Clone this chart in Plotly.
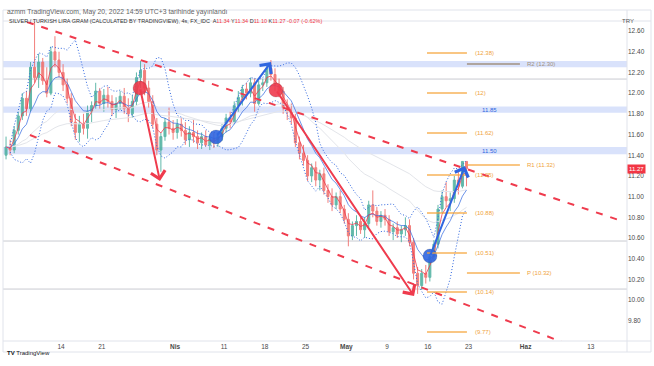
import numpy as np
import pandas as pd
import plotly.graph_objects as go

# ---------------- data ----------------
trading_days = pd.bdate_range("2022-03-03", "2022-05-20")   # one entry per trading day, two 12h bars each

opens = [11.40, 11.48, 11.45, 11.64, 11.78, 11.95, 11.85, 12.25, 12.15, 12.30,
         12.12, 12.00, 12.40, 12.32, 12.20, 12.08, 11.95, 11.72, 11.62, 11.70,
         11.66, 11.82, 11.88, 12.02, 11.90, 11.98, 11.92, 11.84, 11.90, 11.97,
         11.85, 11.80, 11.92, 12.15, 12.22, 12.05, 11.92, 11.70, 11.45, 11.58,
         11.72, 11.66, 11.62, 11.70, 11.64, 11.55, 11.62, 11.58, 11.52, 11.58,
         11.50, 11.56, 11.52, 11.58, 11.66, 11.76, 11.72, 11.88, 11.96, 12.04,
         12.00, 12.10, 11.90, 12.08, 12.10, 12.24, 12.18, 12.08, 12.02, 11.86,
         11.82, 11.76, 11.52, 11.42, 11.35, 11.20, 11.28, 11.16, 11.22, 11.06,
         11.00, 10.92, 11.00, 10.88, 10.78, 10.62, 10.72, 10.76, 10.68, 10.74,
         10.92, 10.86, 10.76, 10.82, 10.78, 10.66, 10.70, 10.64, 10.68, 10.72,
         10.56, 10.26, 10.14, 10.26, 10.22, 10.42, 10.54, 10.88, 11.00, 10.96,
         10.98, 11.16, 11.10, 11.34]
highs = [11.58, 11.55, 11.68, 11.82, 12.00, 12.02, 12.30, 12.69, 12.38, 12.34,
         12.25, 12.45, 12.55, 12.40, 12.28, 12.14, 12.00, 11.80, 11.78, 11.80,
         11.88, 11.92, 12.10, 12.05, 12.04, 12.06, 11.98, 11.96, 12.02, 12.05,
         11.95, 11.98, 12.20, 12.31, 12.28, 12.12, 11.98, 11.76, 11.62, 11.76,
         11.86, 11.74, 11.75, 11.76, 11.72, 11.68, 11.74, 11.64, 11.62, 11.64,
         11.60, 11.62, 11.62, 11.70, 11.80, 11.82, 11.92, 12.02, 12.08, 12.10,
         12.15, 12.14, 12.12, 12.14, 12.28, 12.32, 12.24, 12.14, 12.06, 11.94,
         11.90, 11.80, 11.58, 11.50, 11.40, 11.32, 11.34, 11.26, 11.28, 11.12,
         11.08, 11.04, 11.06, 10.92, 10.84, 10.76, 10.82, 10.80, 10.80, 10.96,
         11.06, 10.90, 10.86, 10.88, 10.82, 10.74, 10.76, 10.72, 10.80, 10.78,
         10.60, 10.32, 10.30, 10.34, 10.46, 10.58, 10.92, 11.06, 11.14, 11.04,
         11.20, 11.26, 11.34, 11.34]
lows = [11.36, 11.40, 11.42, 11.60, 11.74, 11.78, 11.82, 12.10, 12.05, 12.08,
        11.96, 11.98, 12.25, 12.15, 12.02, 11.90, 11.68, 11.55, 11.53, 11.60,
        11.56, 11.72, 11.85, 11.85, 11.82, 11.86, 11.78, 11.76, 11.84, 11.80,
        11.72, 11.76, 11.88, 12.05, 11.98, 11.86, 11.66, 11.40, 11.24, 11.54,
        11.60, 11.55, 11.56, 11.58, 11.50, 11.48, 11.52, 11.46, 11.46, 11.48,
        11.45, 11.47, 11.48, 11.54, 11.62, 11.66, 11.70, 11.82, 11.88, 11.94,
        11.96, 11.82, 11.88, 12.02, 12.06, 12.12, 12.02, 11.96, 11.80, 11.74,
        11.70, 11.48, 11.36, 11.30, 11.15, 11.14, 11.10, 11.06, 11.02, 10.94,
        10.86, 10.88, 10.84, 10.74, 10.52, 10.58, 10.62, 10.64, 10.60, 10.70,
        10.80, 10.72, 10.70, 10.72, 10.62, 10.58, 10.60, 10.56, 10.62, 10.52,
        10.20, 10.06, 10.10, 10.16, 10.18, 10.38, 10.50, 10.84, 10.90, 10.86,
        10.94, 11.02, 11.08, 11.10]
closes = [11.48, 11.45, 11.64, 11.78, 11.95, 11.85, 12.25, 12.15, 12.30, 12.12,
          12.00, 12.40, 12.32, 12.20, 12.08, 11.95, 11.72, 11.62, 11.70, 11.66,
          11.82, 11.88, 12.02, 11.90, 11.98, 11.92, 11.84, 11.90, 11.97, 11.85,
          11.80, 11.92, 12.15, 12.22, 12.05, 11.92, 11.70, 11.45, 11.58, 11.72,
          11.66, 11.62, 11.70, 11.64, 11.55, 11.62, 11.58, 11.52, 11.58, 11.50,
          11.56, 11.52, 11.58, 11.66, 11.76, 11.72, 11.88, 11.96, 12.04, 12.00,
          12.10, 11.90, 12.08, 12.10, 12.24, 12.18, 12.08, 12.02, 11.86, 11.82,
          11.76, 11.52, 11.42, 11.35, 11.20, 11.28, 11.16, 11.22, 11.06, 11.00,
          10.92, 11.00, 10.88, 10.78, 10.62, 10.72, 10.76, 10.68, 10.74, 10.92,
          10.86, 10.76, 10.82, 10.78, 10.66, 10.70, 10.64, 10.68, 10.72, 10.56,
          10.26, 10.14, 10.26, 10.22, 10.42, 10.54, 10.88, 11.00, 10.96, 10.98,
          11.16, 11.10, 11.34, 11.27]

tick_dates = ["2022-03-14", "2022-03-21", "2022-04-01", "2022-04-11", "2022-04-18", "2022-04-25",
              "2022-05-02", "2022-05-09", "2022-05-16", "2022-05-23", "2022-06-01", "2022-06-13"]
tick_labels = ["14", "21", "<b>Nis</b>", "11", "18", "25", "<b>May</b>", "9", "16", "23", "<b>Haz</b>", "13"]
price_ticks = [12.60, 12.40, 12.20, 12.00, 11.80, 11.60, 11.40, 11.20, 11.00, 10.80, 10.60, 10.40, 10.20, 10.00, 9.80]

zone_bottoms = [12.25, 11.81, 11.41]
zone_tops = [12.31, 11.87, 11.48]
zone_labels = ["", "11.85", "11.50"]
gray_levels = [12.136, 10.571, 10.107]

fib_levels = [12.387, 12.001, 11.614, 11.209, 10.842, 10.455, 10.078, 9.692]
fib_labels = ["(12.38)", "(12)", "(11.62)", "(11.25)", "(10.88)", "(10.51)", "(10.14)", "(9.77)"]
pivot_levels = [12.281, 11.305, 10.262]
pivot_labels = ["R2 (12.30)", "R1 (11.32)", "P (10.32)"]

# drawings: (trading-day position, price)
channel_start_x = [2.82, 3.19]
channel_start_y = [12.687, 11.595]
channel_end_x = [75.83, 68.47]
channel_end_y = [10.764, 9.595]

arrow_tail_x = [16.69, 33.37, 26.01, 52.27]
arrow_tail_y = [12.049, 12.030, 11.576, 10.426]
arrow_tip_x = [19.14, 50.31, 32.76, 56.56]
arrow_tip_y = [11.151, 10.040, 12.300, 11.296]
arrow_kind = ["down", "down", "up", "up"]

last_price = 11.27

# ---------------- styling constants ----------------
RED = "#ef3b4d"
BLUE = "#2f66e0"
ORANGE = "rgba(245,166,60,0.85)"
ORANGE_TXT = "#f0a33c"
FONT = "Liberation Sans"
W, H = 654, 366
ML, MR, MT, MB = 3, 27, 21, 25
PW, PH = W - ML - MR, H - MT - MB


def paper_x(px):
    return (px - ML) / PW


def paper_y(py):
    return (H - MB - py) / PH


# ---------------- positions via trading-day scale ----------------
base = np.datetime64("2022-03-03")
day_pos = np.busday_count(base, trading_days.values.astype("datetime64[D]"))
bar_x = np.repeat(day_pos, 2) + np.tile([0.25, 0.75], len(day_pos))
tick_pos = np.busday_count(base, np.array(tick_dates, dtype="datetime64[D]"))

c = pd.Series(closes)
ema_fast = c.ewm(span=3, adjust=False).mean()
ema_mid = c.ewm(span=8, adjust=False).mean()
bb_mid = c.rolling(7, min_periods=2).mean()
bb_std = c.rolling(7, min_periods=2).std()
bb_up = bb_mid + 1.6 * bb_std
bb_lo = bb_mid - 1.6 * bb_std
ma_long1 = c.ewm(span=30, adjust=False).mean()
ma_long2 = c.ewm(span=60, adjust=False).mean()

fig = go.Figure()

for ml in (ma_long1, ma_long2):
    fig.add_trace(go.Scatter(x=bar_x, y=ml, mode="lines", line=dict(color="#e3e5ea", width=1),
                             hoverinfo="skip", showlegend=False))

fig.add_trace(go.Candlestick(
    x=bar_x, open=opens, high=highs, low=lows, close=closes,
    increasing=dict(line=dict(color="#47ad9c", width=1), fillcolor="#47ad9c"),
    decreasing=dict(line=dict(color="#f06a66", width=1), fillcolor="#f06a66"),
    whiskerwidth=0, opacity=0.85, hoverinfo="skip", showlegend=False))

for band in (bb_up, bb_lo):
    fig.add_trace(go.Scatter(x=bar_x, y=band, mode="lines", line=dict(color=BLUE, width=1, dash="1px,2px"),
                             hoverinfo="skip", showlegend=False))
fig.add_trace(go.Scatter(x=bar_x, y=ema_mid, mode="lines", line=dict(color="rgba(47,102,224,0.7)", width=1),
                         hoverinfo="skip", showlegend=False))
fig.add_trace(go.Scatter(x=bar_x, y=ema_fast, mode="lines", line=dict(color="rgba(239,59,77,0.8)", width=1),
                         hoverinfo="skip", showlegend=False))

shapes = []
for lo_, hi_ in zip(zone_bottoms, zone_tops):
    shapes.append(dict(type="rect", xref="paper", yref="y", x0=0, x1=1, y0=lo_, y1=hi_,
                       fillcolor="rgba(120,150,240,0.28)", line=dict(width=0), layer="below"))
for g in gray_levels:
    shapes.append(dict(type="line", xref="paper", yref="y", x0=0, x1=1, y0=g, y1=g,
                       line=dict(color="#c9cbd1", width=1), layer="below"))
for x0, y0, x1, y1 in zip(channel_start_x, channel_start_y, channel_end_x, channel_end_y):
    shapes.append(dict(type="line", xref="x", yref="y", x0=x0, y0=y0, x1=x1, y1=y1,
                       line=dict(color=RED, width=2, dash="7px,8px")))
for lv in fib_levels:
    shapes.append(dict(type="line", xref="x", yref="y", x0=51.9, x1=56.8, y0=lv, y1=lv,
                       line=dict(color=ORANGE, width=1.5)))
for lv, lab in zip(pivot_levels, pivot_labels):
    col = "#a09080" if lab.startswith("R2") else ORANGE
    shapes.append(dict(type="line", xref="x", yref="y", x0=56.8, x1=63.3, y0=lv, y1=lv,
                       line=dict(color=col, width=1.5)))
frame_col = "#e0e3eb"
for y in (10, 21, H - MB, 352):
    shapes.append(dict(type="line", xref="paper", yref="paper", x0=paper_x(3), x1=paper_x(651),
                       y0=paper_y(y), y1=paper_y(y), line=dict(color=frame_col, width=1)))
for x in (3, 627, 651):
    shapes.append(dict(type="line", xref="paper", yref="paper", x0=paper_x(x), x1=paper_x(x),
                       y0=paper_y(10), y1=paper_y(352), line=dict(color=frame_col, width=1)))

annotations = []
for tx, ty, hx, hy, k in zip(arrow_tail_x, arrow_tail_y, arrow_tip_x, arrow_tip_y, arrow_kind):
    col = RED if k == "down" else BLUE
    annotations.append(dict(x=hx, y=hy, ax=tx, ay=ty, xref="x", yref="y", axref="x", ayref="y",
                            text="", showarrow=True, arrowhead=4, arrowsize=1.4, arrowwidth=2,
                            arrowcolor=col, standoff=0, startstandoff=0))
for lv, lab in zip(fib_levels, fib_labels):
    annotations.append(dict(x=57.6, y=lv, xref="x", yref="y", text=lab, showarrow=False, xanchor="left",
                            font=dict(size=6, color=ORANGE_TXT, family=FONT)))
for lv, lab in zip(pivot_levels, pivot_labels):
    col = "#a09080" if lab.startswith("R2") else ORANGE_TXT
    annotations.append(dict(x=63.9, y=lv, xref="x", yref="y", text=lab, showarrow=False, xanchor="left",
                            font=dict(size=6, color=col, family=FONT)))
for lo_, hi_, lab in zip(zone_bottoms, zone_tops, zone_labels):
    if lab:
        annotations.append(dict(x=59.6, y=(lo_ + hi_) / 2, xref="x", yref="y", text=lab, showarrow=False,
                                font=dict(size=6, color="#2f66e0", family=FONT)))
annotations.append(dict(x=1.0, y=last_price, xref="paper", yref="y", xanchor="left", text=f"{last_price:.2f}",
                        showarrow=False, bgcolor="#f23645", borderpad=1,
                        font=dict(size=6, color="white", family=FONT)))
annotations.append(dict(x=paper_x(5), y=paper_y(6), xref="paper", yref="paper", xanchor="left",
                        text="azmm TradingView.com, May 20, 2022 14:59 UTC+3 tarihinde yayınlandı",
                        showarrow=False, font=dict(size=6.8, color="#666", family=FONT)))
red_v = "<span style='color:#f23645'>%s</span>"
annotations.append(dict(x=paper_x(7), y=paper_y(16), xref="paper", yref="paper", xanchor="left",
                        text="SILVER / TURKISH LIRA GRAM (CALCULATED BY TRADINGVIEW), 4s, FX_IDC  "
                             "A" + red_v % "11.34" + " Y" + red_v % "11.34" + " D" + red_v % "11.10" +
                             " K" + red_v % "11.27" + " " + red_v % "-0.07 (-0.62%)",
                        showarrow=False, font=dict(size=5.5, color="#333", family=FONT)))
annotations.append(dict(x=paper_x(636), y=paper_y(16), xref="paper", yref="paper", text="TRY",
                        showarrow=False, font=dict(size=6, color="#555", family=FONT)))
annotations.append(dict(x=paper_x(5), y=paper_y(358), xref="paper", yref="paper", xanchor="left",
                        text="<b>TV</b> TradingView", showarrow=False,
                        font=dict(size=6, color="#131722", family=FONT)))

fig.add_trace(go.Scatter(x=arrow_tail_x, y=arrow_tail_y, mode="markers",
                         marker=dict(size=14, color=[RED if k == "down" else BLUE for k in arrow_kind],
                                     opacity=0.9, line=dict(width=1, color="rgba(0,0,0,0.15)")),
                         hoverinfo="skip", showlegend=False))

fig.update_layout(
    width=W, height=H, margin=dict(l=ML, r=MR, t=MT, b=MB, autoexpand=False),
    paper_bgcolor="white", plot_bgcolor="white", showlegend=False,
    font=dict(family=FONT),
    shapes=shapes, annotations=annotations,
    xaxis=dict(range=[-0.123, 76.44], tickmode="array", tickvals=tick_pos, ticktext=tick_labels,
               showgrid=False, zeroline=False, showline=False, ticks="", automargin=False,
               tickfont=dict(size=6.5, color="#4a4a4a", family=FONT),
               rangeslider=dict(visible=False), fixedrange=True),
    yaxis=dict(range=[9.605, 12.697], side="right", tickmode="array", tickvals=price_ticks,
               ticktext=[f"{v:.2f}" for v in price_ticks], showgrid=False, zeroline=False,
               showline=False, ticks="", automargin=False,
               tickfont=dict(size=6.5, color="#4a4a4a", family=FONT),
               fixedrange=True),
)

fig.write_html("out.html", config={"displayModeBar": False},
               post_script="document.body.style.margin='0';document.body.style.padding='0';")
